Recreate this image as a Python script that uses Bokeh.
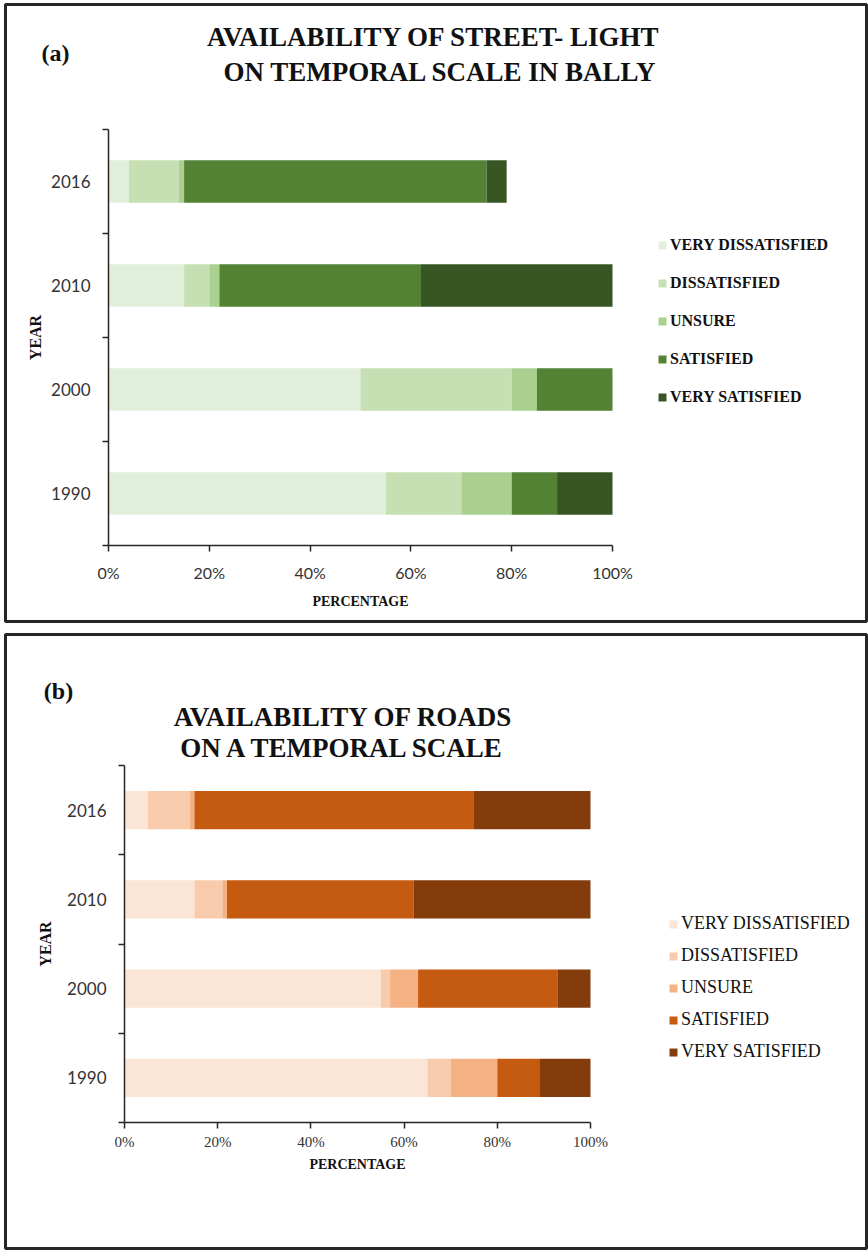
from bokeh.plotting import figure
from bokeh.models import (FixedTicker, PrintfTickFormatter, Legend, LegendItem,
                          Label, Range1d, ColumnDataSource)
from bokeh.layouts import column
from bokeh.embed import file_html
from bokeh.resources import INLINE

# ---------------- data ----------------
years = ["1990", "2000", "2010", "2016"]
categories = ["VERY DISSATISFIED", "DISSATISFIED", "UNSURE", "SATISFIED", "VERY SATISFIED"]
x_ticks = [0, 20, 40, 60, 80, 100]

# (a) street-light, % per year (1990, 2000, 2010, 2016)
light_very_dissatisfied = [55, 50, 15, 4]
light_dissatisfied = [15, 30, 5, 10]
light_unsure = [10, 5, 2, 1]
light_satisfied = [9, 15, 40, 60]
light_very_satisfied = [11, 0, 38, 4]

# (b) roads, % per year (1990, 2000, 2010, 2016)
road_very_dissatisfied = [65, 55, 15, 5]
road_dissatisfied = [5, 2, 6, 9]
road_unsure = [10, 6, 1, 1]
road_satisfied = [9, 30, 40, 60]
road_very_satisfied = [11, 7, 38, 25]

green = ["#e2efda", "#c6e0b4", "#a9d08e", "#548235", "#375623"]
orange = ["#fbe5d6", "#f8cbad", "#f4b183", "#c55a11", "#843c0c"]

W = 868
SERIF = "Liberation Serif"
SANS = "Lato"
AXIS_COLOR = "#262626"


def panel(series, colors, titles, tag, c):
    H = c["height"]
    fl, ft, fr, fb = c["frame"]          # frame box in canvas px (panel border)
    ax0, ax1 = c["ax"]                    # canvas x of 0% and 100%
    ay0, ay1 = c["ay"]                    # canvas y of axis bottom and top
    n = len(years)
    sx = (ax1 - ax0) / 100.0
    sy = (ay0 - ay1) / float(n)
    xr = Range1d(-(ax0 - fl) / sx, 100 + (fr - ax1) / sx)
    yr = Range1d(-(fb - ay0) / sy, n + (ay1 - ft) / sy)

    p = figure(width=W, height=H, output_backend="svg", toolbar_location=None,
               x_range=xr, y_range=yr,
               min_border_left=fl, min_border_right=W - fr,
               min_border_top=ft, min_border_bottom=H - fb)
    p.outline_line_color = "#262626"
    p.outline_line_width = 3
    p.xgrid.visible = False
    p.ygrid.visible = False
    p.background_fill_color = "white"
    p.border_fill_color = "white"

    data = {"y": [i + 0.5 for i in range(n)]}
    for cat, vals in zip(categories, series):
        data[cat] = vals
    src = ColumnDataSource(data)
    rs = p.hbar_stack(categories, y="y", height=c["bar_h"], color=colors,
                      line_color=None, source=src)

    # y axis
    ya = p.yaxis[0]
    ya.fixed_location = 0
    ya.bounds = (0, n)
    ya.ticker = FixedTicker(ticks=data["y"], minor_ticks=list(range(n + 1)))
    ya.major_label_overrides = {y: yr_ for y, yr_ in zip(data["y"], years)}
    ya.major_tick_line_color = None
    ya.major_tick_out = 0
    ya.major_tick_in = 0
    ya.minor_tick_out = 6
    ya.minor_tick_in = 0
    ya.minor_tick_line_color = AXIS_COLOR
    ya.minor_tick_line_width = 1.5
    ya.axis_line_color = AXIS_COLOR
    ya.axis_line_width = 1.5
    ya.major_label_text_font = SANS
    ya.major_label_text_font_size = c["ytick_size"]
    ya.major_label_text_color = "#333333"
    ya.major_label_standoff = c["ytick_standoff"]
    ya.axis_label = "YEAR"
    ya.axis_label_text_font = SERIF
    ya.axis_label_text_font_style = "bold"
    ya.axis_label_text_font_size = "16px"
    ya.axis_label_text_color = "#111111"
    ya.axis_label_standoff = c["ylabel_standoff"]

    # x axis
    xa = p.xaxis[0]
    xa.fixed_location = 0
    xa.bounds = (0, 100)
    xa.ticker = FixedTicker(ticks=x_ticks)
    xa.formatter = PrintfTickFormatter(format="%d%%")
    xa.minor_tick_line_color = None
    xa.major_tick_out = 6
    xa.major_tick_in = 0
    xa.major_tick_line_color = AXIS_COLOR
    xa.major_tick_line_width = 1.5
    xa.axis_line_color = AXIS_COLOR
    xa.axis_line_width = 1.5
    xa.major_label_text_font = c["xtick_font"]
    xa.major_label_text_font_size = c["xtick_size"]
    xa.major_label_text_color = "#333333"
    xa.major_label_standoff = c["xtick_standoff"]
    xa.axis_label = "PERCENTAGE"
    xa.axis_label_text_font = SERIF
    xa.axis_label_text_font_style = "bold"
    xa.axis_label_text_font_size = "14px"
    xa.axis_label_text_color = "#111111"
    xa.axis_label_standoff = c["xlabel_standoff"]

    # legend
    items = [LegendItem(label=cat, renderers=[r]) for cat, r in zip(categories, rs)]
    leg = Legend(items=items,
                 location=(c["leg_left"] - fl, fb - c["leg_bottom"]),
                 orientation="vertical", margin=0, padding=0,
                 border_line_color=None, background_fill_alpha=0,
                 glyph_width=10, glyph_height=10, label_height=c["leg_label_h"],
                 spacing=c["leg_spacing"], label_standoff=3,
                 label_text_font=SERIF, label_text_font_style=c["leg_style"],
                 label_text_font_size=c["leg_size"], label_text_color="#111111")
    p.add_layout(leg)

    # titles
    for (cx, cy), t in zip(c["title_pos"], titles):
        p.add_layout(Label(x=cx - fl, y=fb - cy, x_units="screen", y_units="screen",
                           text=t, text_align="center", text_baseline="middle",
                           text_font=SERIF, text_font_style="bold",
                           text_font_size=c["title_size"], text_color="#111111"))
    tx, ty = c["tag_pos"]
    p.add_layout(Label(x=tx - fl, y=fb - ty, x_units="screen", y_units="screen",
                       text=tag, text_align="center", text_baseline="middle",
                       text_font=SERIF, text_font_style="bold",
                       text_font_size="24px", text_color="#111111"))
    return p


cfg_a = dict(height=628, frame=(5, 4, 866, 621), ax=(108, 612), ay=(545, 129), bar_h=0.41,
             ytick_size="17px", ytick_standoff=12, ylabel_standoff=4,
             xtick_font=SANS, xtick_size="16px", xtick_standoff=11, xlabel_standoff=9,
             leg_left=657, leg_bottom=406, leg_label_h=14, leg_spacing=20,
             leg_style="bold", leg_size="16px",
             title_pos=[(440, 36), (440, 71)], title_size="27px", tag_pos=(55, 52))

cfg_b = dict(height=622, frame=(5, 6, 866, 620), ax=(124, 590), ay=(494, 137), bar_h=0.43,
             ytick_size="17px", ytick_standoff=12, ylabel_standoff=10,
             xtick_font=SERIF, xtick_size="15px", xtick_standoff=5, xlabel_standoff=4,
             leg_left=668, leg_bottom=434, leg_label_h=14, leg_spacing=11,
             leg_style="normal", leg_size="18px",
             title_pos=[(343, 88), (343, 119)], title_size="27px", tag_pos=(58, 62))

p1 = panel([light_very_dissatisfied, light_dissatisfied, light_unsure,
            light_satisfied, light_very_satisfied], green,
           ["AVAILABILITY  OF  STREET- LIGHT", "ON TEMPORAL SCALE IN BALLY"], "(a)", cfg_a)
p2 = panel([road_very_dissatisfied, road_dissatisfied, road_unsure,
            road_satisfied, road_very_satisfied], orange,
           ["AVAILABILITY OF ROADS", "ON A TEMPORAL SCALE"], "(b)", cfg_b)

layout = column(p1, p2, spacing=0)
open("out.html", "w").write(file_html(layout, INLINE))
